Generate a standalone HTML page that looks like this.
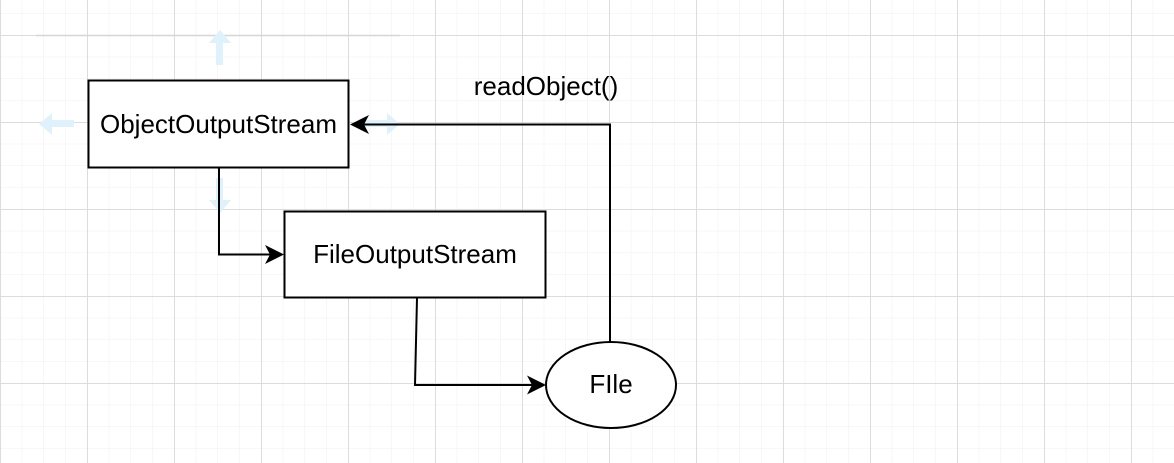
<!DOCTYPE html>
<html><head><style>
html,body{margin:0;padding:0;background:#fff;}
svg{display:block;}
text{font-family:"Liberation Sans",sans-serif;}
</style></head><body>
<svg width="1174" height="463" xmlns="http://www.w3.org/2000/svg">
<defs>
<pattern id="minor" x="0" y="13.25" width="21.75" height="21.75" patternUnits="userSpaceOnUse">
<path d="M0 0V21.75M0 0H21.75" stroke="#efefef" stroke-width="1" fill="none"/>
</pattern>
<pattern id="major" x="0" y="35" width="87" height="87" patternUnits="userSpaceOnUse">
<path d="M0.5 0V87M0 0.5H87" stroke="#dcdcdc" stroke-width="1" fill="none"/>
</pattern>
</defs>
<rect width="1174" height="463" fill="url(#minor)"/>
<rect width="1174" height="463" fill="url(#major)"/>
<line x1="36" y1="35.5" x2="400" y2="35.5" stroke="#d6d6d6" stroke-width="1.5"/>
<g fill="#dff1fb">
<path d="M216 65h7v-22h8l-11-13-11 13h7z"/>
<path d="M74 120v7h-22v8l-13-11 13-11v7z"/>
<path d="M216 178h7v22h8l-11 13-11-13h7z"/>
<path d="M365 120v7h22v8l13-11-13-11v7z"/>
</g>
<rect x="88.5" y="80.5" width="260" height="87" fill="#fff" stroke="#000" stroke-width="2"/>
<text x="218.5" y="133" font-size="26" text-anchor="middle">ObjectOutputStream</text>
<rect x="284.5" y="211.5" width="261" height="86" fill="#fff" stroke="#000" stroke-width="2"/>
<text x="415" y="263" font-size="26" text-anchor="middle">FileOutputStream</text>
<ellipse cx="611" cy="385" rx="65" ry="43" fill="#fff" stroke="#000" stroke-width="2"/>
<text x="611" y="393" font-size="26" text-anchor="middle">FIle</text>
<g fill="none" stroke="#000" stroke-width="2">
<path d="M219 168V254.5H276"/>
<path d="M417 298L415 385H538"/>
<path d="M610 342V124.5H358"/>
</g>
<g fill="#000">
<path d="M284 254.5L265 264L270 254.5L265 245Z"/>
<path d="M546 385L527 394.5L532 385L527 375.5Z"/>
<path d="M350 124.5L369 115L364 124.5L369 134Z"/>
</g>
<text x="546" y="95" font-size="26" text-anchor="middle">readObject()</text>
</svg>
</body></html>
